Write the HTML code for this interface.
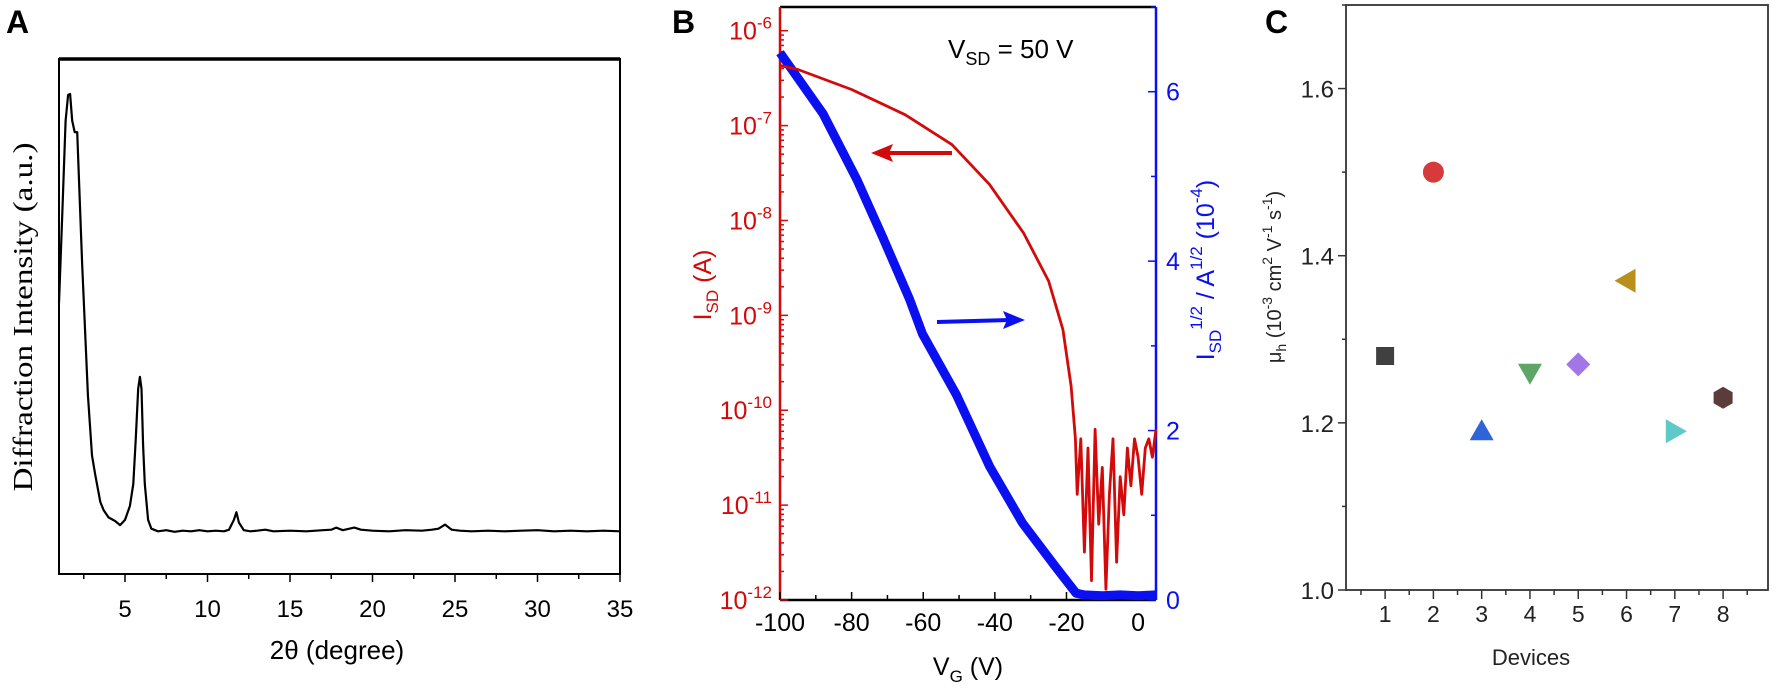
<!DOCTYPE html>
<html><head><meta charset="utf-8"><style>
html,body{margin:0;padding:0;background:#fff;}
svg{display:block;font-family:"Liberation Sans",Arial,sans-serif;}
</style></head><body>
<svg id="fig" width="1772" height="689" viewBox="0 0 1772 689" xmlns="http://www.w3.org/2000/svg"></svg>
<script>
// ===== Panel A data =====
const xrdAngle = [1.0,1.2,1.4,1.55,1.67,1.8,1.95,2.1,2.4,2.75,3.0,3.2,3.5,3.7,4.0,4.4,4.7,5.0,5.3,5.5,5.65,5.8,5.9,6.0,6.1,6.2,6.4,6.6,7.0,7.5,8.0,8.5,9.0,9.5,10.0,10.5,11.0,11.3,11.6,11.75,11.9,12.2,12.6,13.0,13.5,14.0,15.0,16.0,17.0,17.5,17.8,18.2,18.9,19.3,20,21,22,23,23.6,24.0,24.4,24.8,25.3,26,27,28,29,30,31,32,33,34,35];
const xrdIntensity = [52.6,70,88,93,93.2,88,85.8,85.8,60.4,34.8,23,19.2,14,12.4,11,10.3,9.5,10.5,13.2,17.5,26,36,38.3,36,25,17.5,10.5,8.8,8.3,8.5,8.2,8.4,8.3,8.5,8.3,8.4,8.3,8.6,10.5,12,10,8.5,8.3,8.4,8.6,8.3,8.4,8.3,8.5,8.6,9.0,8.5,9.0,8.6,8.4,8.3,8.5,8.4,8.6,8.8,9.6,8.6,8.4,8.3,8.4,8.3,8.4,8.5,8.3,8.4,8.3,8.4,8.3];
const xrdTicks = [5,10,15,20,25,30,35];
// ===== Panel B data =====
const vgRed = [-100,-95,-80,-65,-52,-41.5,-32,-25,-21,-18.7,-17.5,-17,-16,-15,-14,-13,-12,-11,-10,-9,-8,-7,-6,-5,-4,-3,-2,-1,0,1,2,3,4,5];
const isdRed = [4.3e-7,3.9e-7,2.4e-7,1.3e-7,6.3e-8,2.4e-8,7.4e-9,2.3e-9,7.1e-10,1.8e-10,5.0e-11,1.3e-11,5e-11,3.2e-12,4e-11,1.6e-12,6.3e-11,6.3e-12,2.5e-11,1.3e-12,1.3e-11,5e-11,2.5e-12,2e-11,7.9e-12,4e-11,1.6e-11,5e-11,3.2e-11,1.3e-11,4e-11,5e-11,3.2e-11,6.3e-11];
const vgBlue = [-100,-88,-78.5,-71.3,-63.8,-60.2,-50.7,-41.5,-32.3,-23,-17.3,-15,-10,-5,0,5];
const sqrtBlue = [6.46,5.74,4.96,4.28,3.55,3.14,2.42,1.58,0.91,0.39,0.08,0.06,0.05,0.06,0.05,0.06];
const vgTicks = [-100,-80,-60,-40,-20,0];
const logTicks = [-6,-7,-8,-9,-10,-11,-12];
const sqrtTicks = [0,2,4,6];
// ===== Panel C data =====
const devices = [1,2,3,4,5,6,7,8];
const mobility = [1.28,1.50,1.19,1.26,1.27,1.37,1.19,1.23];
const mobTicks = [1.0,1.2,1.4,1.6];

const NS="http://www.w3.org/2000/svg";
const svg=document.getElementById('fig');
function el(tag,attrs,parent){const e=document.createElementNS(NS,tag);for(const k in attrs)e.setAttribute(k,attrs[k]);(parent||svg).appendChild(e);return e;}

// ---------- Panel A ----------
const A={l:59,r:620,t:59,b:574,x0:1,x1:35,y0:0,y1:100};
const ax=v=>A.l+(v-A.x0)/(A.x1-A.x0)*(A.r-A.l);
const ay=v=>A.b-(v-A.y0)/(A.y1-A.y0)*(A.b-A.t);
const gA=el('g',{});


let t=el('text',{x:6,y:33,'font-size':32,'font-weight':'bold'},gA);t.textContent='A';

let fr=el('rect',{x:A.l,y:A.t,width:A.r-A.l,height:A.b-A.t,fill:'none',stroke:'#000','stroke-width':2},gA);

el('line',{x1:A.l,x2:A.r,y1:A.t,y2:A.t,stroke:'#000','stroke-width':3.5},gA);
for(let v=2.5;v<=35;v+=2.5){const major=xrdTicks.includes(v);el('line',{x1:ax(v),x2:ax(v),y1:A.b,y2:A.b+(major?8:5),stroke:'#000','stroke-width':1.5},gA);}
xrdTicks.forEach(v=>{const tl=el('text',{x:ax(v),y:617,'font-size':24,'text-anchor':'middle'},gA);tl.textContent=v;
});
let xt=el('text',{x:337,y:659,'font-size':26,'text-anchor':'middle'},gA);xt.textContent='2θ (degree)';

let yt=el('text',{x:0,y:0,'font-size':27,'text-anchor':'middle','font-family':'Liberation Serif,serif',transform:'translate(32,317) rotate(-90)',textLength:349,lengthAdjust:'spacingAndGlyphs'},gA);yt.textContent='Diffraction Intensity (a.u.)';

let pa=el('path',{d:xrdAngle.map((v,i)=>(i?'L':'M')+ax(v).toFixed(1)+','+ay(xrdIntensity[i]).toFixed(1)).join(''),fill:'none',stroke:'#000','stroke-width':2.2,'stroke-linejoin':'round'},gA);


// ---------- Panel B ----------
const B={l:780,r:1156,t:7,b:600,x0:-100,x1:5,ly0:-12,ly1:-5.75,r0:0,r1:7};
const bx=v=>B.l+(v-B.x0)/(B.x1-B.x0)*(B.r-B.l);
const byL=v=>B.b-(Math.log10(v)-B.ly0)/(B.ly1-B.ly0)*(B.b-B.t);
const byE=e=>B.b-(e-B.ly0)/(B.ly1-B.ly0)*(B.b-B.t);
const byR=v=>B.b-(v-B.r0)/(B.r1-B.r0)*(B.b-B.t);
const RED='#d20a0a',BLUE='#0a10f0';
const gB=el('g',{});


t=el('text',{x:672,y:33,'font-size':32,'font-weight':'bold'},gB);t.textContent='B';

el('line',{x1:B.l,x2:B.r,y1:B.t,y2:B.t,stroke:'#000','stroke-width':2.5},gB);
el('line',{x1:B.l,x2:B.r,y1:B.b,y2:B.b,stroke:'#000','stroke-width':2.5},gB);
el('line',{x1:B.l,x2:B.l,y1:B.t,y2:B.b,stroke:RED,'stroke-width':2.5},gB);
el('line',{x1:B.r,x2:B.r,y1:B.t,y2:B.b,stroke:BLUE,'stroke-width':2.5},gB);
for(let v=-100;v<=0;v+=10){const major=vgTicks.includes(v);el('line',{x1:bx(v),x2:bx(v),y1:B.b,y2:B.b-(major?8:5),stroke:'#000','stroke-width':1.5},gB);}
vgTicks.forEach(v=>{const tl=el('text',{x:bx(v),y:631,'font-size':25,'text-anchor':'middle'},gB);tl.textContent=v;
});
for(let e=-12;e<-5.75;e++){for(let m=1;m<10;m++){const y=byE(e+Math.log10(m));if(y<B.t)break;el('line',{x1:B.l,x2:B.l+(m===1?8:4),y1:y,y2:y,stroke:RED,'stroke-width':1.5},gB);}}
logTicks.forEach(e=>{const tl=el('text',{x:772,y:byE(e)+9,'font-size':25,'text-anchor':'end',fill:RED},gB);

const a=el('tspan',{},tl);a.textContent='10';const s=el('tspan',{dy:-11,'font-size':17},tl);s.textContent=String(e).replace('-','-');});
for(let v=0;v<=7;v++){el('line',{x1:B.r,x2:B.r-(v%2===0?8:5),y1:byR(v),y2:byR(v),stroke:BLUE,'stroke-width':1.5},gB);}
sqrtTicks.forEach(v=>{const tl=el('text',{x:1166,y:byR(v)+9,'font-size':25,fill:BLUE},gB);tl.textContent=v;
});
// titles
let lt=el('text',{transform:'translate(711,285) rotate(-90)','font-size':25,'text-anchor':'middle',fill:RED},gB);

el('tspan',{},lt).textContent='I';let ts=el('tspan',{dy:7,'font-size':17},lt);ts.textContent='SD';let ts2=el('tspan',{dy:-7},lt);ts2.textContent=' (A)';
let rt=el('text',{transform:'translate(1214,270) rotate(-90)','font-size':25,'text-anchor':'middle',fill:BLUE},gB);

el('tspan',{},rt).textContent='I';el('tspan',{dy:7,'font-size':17},rt).textContent='SD';el('tspan',{dy:-19,'font-size':17},rt).textContent='1/2';
el('tspan',{dy:12},rt).textContent=' /  A';el('tspan',{dy:-12,'font-size':17},rt).textContent='1/2';el('tspan',{dy:12},rt).textContent='  (10';
el('tspan',{dy:-12,'font-size':17},rt).textContent='-4';el('tspan',{dy:12},rt).textContent=')';
let vt=el('text',{x:968,y:675,'font-size':25,'text-anchor':'middle'},gB);

el('tspan',{},vt).textContent='V';el('tspan',{dy:7,'font-size':17},vt).textContent='G';el('tspan',{dy:-7},vt).textContent=' (V)';
let vsd=el('text',{x:948,y:58,'font-size':26},gB);

el('tspan',{},vsd).textContent='V';el('tspan',{dy:7,'font-size':18},vsd).textContent='SD';el('tspan',{dy:-7},vsd).textContent=' = 50 V';
// curves
let cb=el('path',{d:vgBlue.map((v,i)=>(i?'L':'M')+bx(v).toFixed(1)+','+byR(sqrtBlue[i]).toFixed(1)).join(''),fill:'none',stroke:BLUE,'stroke-width':9,'stroke-linejoin':'round'},gB);

let cr=el('path',{d:vgRed.map((v,i)=>(i?'L':'M')+bx(v).toFixed(1)+','+byL(isdRed[i]).toFixed(1)).join(''),fill:'none',stroke:RED,'stroke-width':2.8,'stroke-linejoin':'round'},gB);

// arrows
let ar=el('g',{},gB);
el('line',{x1:952,x2:885,y1:153,y2:153,stroke:RED,'stroke-width':4},ar);
el('polygon',{points:'871,153 893,144 889,153 893,162',fill:RED},ar);
let ab=el('g',{},gB);
el('line',{x1:937,x2:1010,y1:322,y2:320,stroke:BLUE,'stroke-width':4},ab);
el('polygon',{points:'1025,320 1003,311 1007,320 1003,329',fill:BLUE},ab);

// ---------- Panel C ----------
const C={l:1346,r:1768,t:5,b:590,x0:0.19,x1:8.93,y0:1.0,y1:1.7};
const cx=v=>C.l+(v-C.x0)/(C.x1-C.x0)*(C.r-C.l);
const cy=v=>C.b-(v-C.y0)/(C.y1-C.y0)*(C.b-C.t);
const gC=el('g',{});


t=el('text',{x:1265,y:33,'font-size':32,'font-weight':'bold'},gC);t.textContent='C';

el('rect',{x:C.l,y:C.t,width:C.r-C.l,height:C.b-C.t,fill:'none',stroke:'#333','stroke-width':1.8},gC);
for(let v=0.5;v<=8.5;v+=0.5){const major=Number.isInteger(v);el('line',{x1:cx(v),x2:cx(v),y1:C.b,y2:C.b+(major?9:5),stroke:'#333','stroke-width':1.5},gC);}
devices.forEach(v=>{const tl=el('text',{x:cx(v),y:622,'font-size':23,'text-anchor':'middle',fill:'#222'},gC);tl.textContent=v;
});
for(let v=1.0;v<=1.701;v+=0.1){const major=Math.round(v*10)%2===0;el('line',{x1:C.l,x2:C.l-(major?8:4),y1:cy(v),y2:cy(v),stroke:'#333','stroke-width':1.5},gC);}
mobTicks.forEach(v=>{const tl=el('text',{x:1334,y:cy(v)+9,'font-size':24,'text-anchor':'end',fill:'#222'},gC);tl.textContent=v.toFixed(1);
});
let dt=el('text',{x:1531,y:665,'font-size':22,'text-anchor':'middle',fill:'#222'},gC);dt.textContent='Devices';

let mt=el('text',{transform:'translate(1281,277) rotate(-90)','font-size':20,'text-anchor':'middle',fill:'#222'},gC);

el('tspan',{},mt).textContent='μ';el('tspan',{dy:5,'font-size':14},mt).textContent='h';el('tspan',{dy:-5},mt).textContent=' (10';
el('tspan',{dy:-9,'font-size':14},mt).textContent='-3';el('tspan',{dy:9},mt).textContent=' cm';el('tspan',{dy:-9,'font-size':14},mt).textContent='2';
el('tspan',{dy:9},mt).textContent=' V';el('tspan',{dy:-9,'font-size':14},mt).textContent='-1';el('tspan',{dy:9},mt).textContent=' s';
el('tspan',{dy:-9,'font-size':14},mt).textContent='-1';el('tspan',{dy:9},mt).textContent=')';
const colors=['#404040','#d63a3a','#2f63d8','#5ea567','#a276e6','#b98f1e','#5fc8c8','#5c3b3b'];
function marker(i,x,y){const c=colors[i],r=11;let m;
 switch(i){
 case 0:m=el('rect',{x:x-9,y:y-9,width:18,height:18,fill:c},gC);break;
 case 1:m=el('circle',{cx:x,cy:y,r:10.5,fill:c},gC);break;
 case 2:m=el('polygon',{points:`${x},${y-12} ${x+12},${y+9} ${x-12},${y+9}`,fill:c},gC);break;
 case 3:m=el('polygon',{points:`${x},${y+12} ${x+12},${y-9} ${x-12},${y-9}`,fill:c},gC);break;
 case 4:m=el('polygon',{points:`${x},${y-12} ${x+12},${y} ${x},${y+12} ${x-12},${y}`,fill:c},gC);break;
 case 5:m=el('polygon',{points:`${x-12},${y} ${x+9},${y-12} ${x+9},${y+12}`,fill:c},gC);break;
 case 6:m=el('polygon',{points:`${x+12},${y} ${x-9},${y-12} ${x-9},${y+12}`,fill:c},gC);break;
 default:{const p=[];for(let k=0;k<6;k++){const a=Math.PI/6+k*Math.PI/3;p.push((x+r*Math.cos(a)).toFixed(1)+','+(y+r*Math.sin(a)).toFixed(1));}m=el('polygon',{points:p.join(' '),fill:c},gC);}
 }
 return m;}
devices.forEach((d,i)=>{const m=marker(i,cx(d),cy(mobility[i]));
 
 });
</script>
</body></html>
